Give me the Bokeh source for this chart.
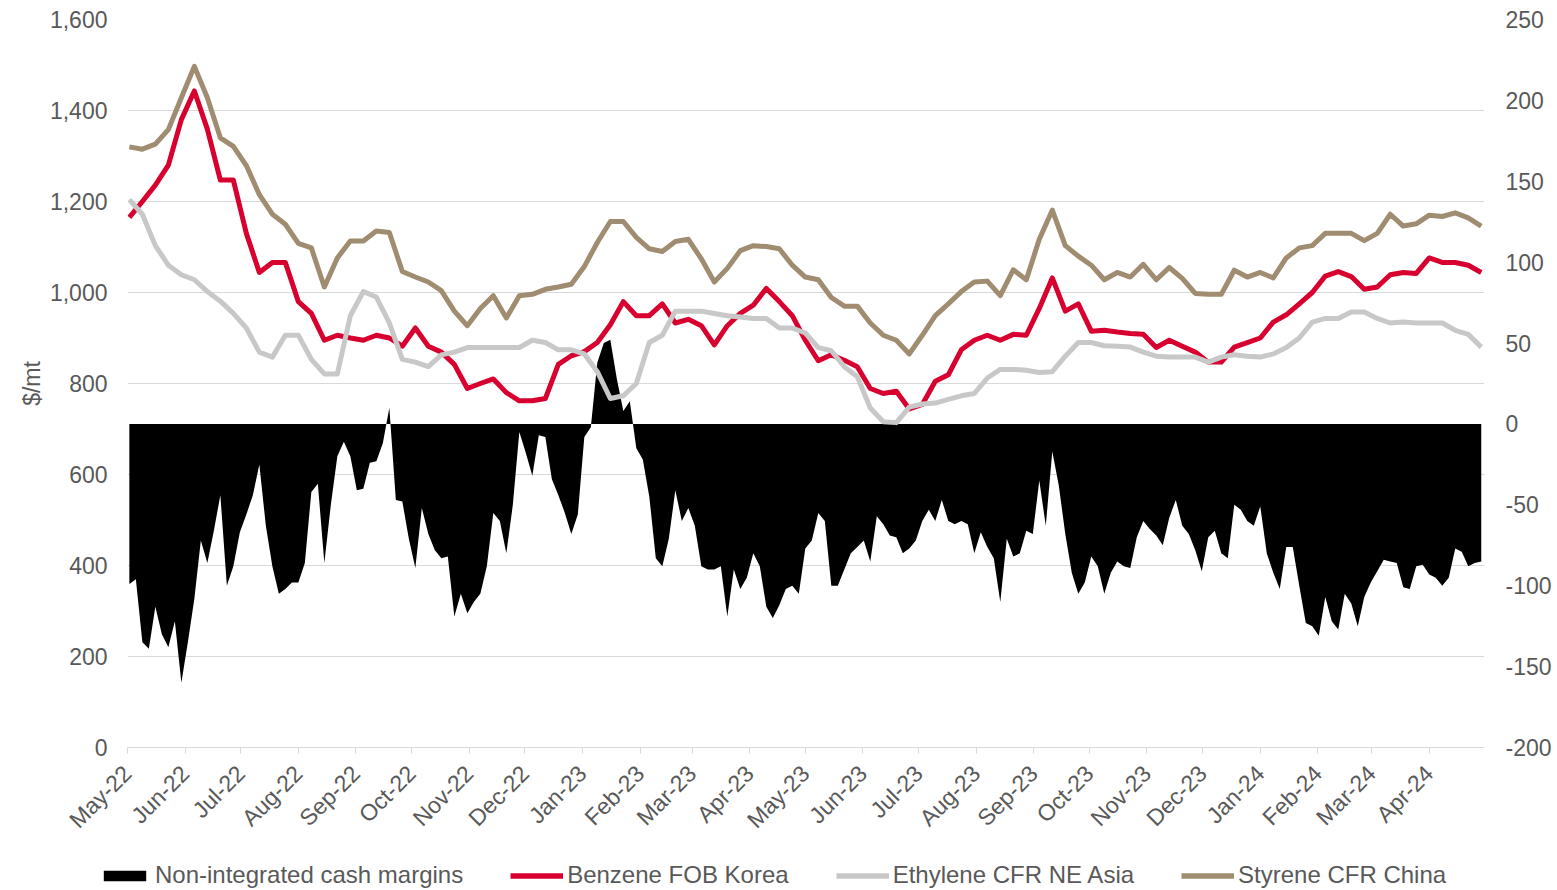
import pandas as pd
from math import pi
from bokeh.plotting import figure
from bokeh.layouts import column
from bokeh.models import (Range1d, LinearAxis, FixedTicker, NumeralTickFormatter,
                          DatetimeTickFormatter, MonthsTicker, Legend, LegendItem,
                          ColumnDataSource)
from bokeh.embed import file_html
from bokeh.resources import INLINE

# ---------------- data ----------------
week_start = "2022-05-02"      # weekly price assessments
margin_start = "2022-05-02"    # margins, twice a week

styrene = [1320, 1315, 1326, 1358, 1428, 1497, 1428, 1340, 1321, 1279,
           1215, 1172, 1150, 1108, 1098, 1012, 1076, 1113, 1113, 1135,
           1132, 1046, 1034, 1023, 1004, 959, 927, 965, 993, 944,
           993, 996, 1007, 1012, 1018, 1057, 1110, 1156, 1156, 1121,
           1096, 1090, 1112, 1117, 1074, 1023, 1053, 1092, 1103, 1101,
           1096, 1060, 1034, 1028, 989, 970, 970, 933, 906, 895,
           865, 906, 949, 975, 1002, 1023, 1025, 993, 1050, 1028,
           1117, 1181, 1103, 1080, 1060, 1028, 1044, 1034, 1062, 1028,
           1055, 1031, 998, 996, 996, 1049, 1034, 1044, 1032, 1076,
           1098, 1103, 1130, 1130, 1130, 1114, 1130, 1172, 1146, 1151,
           1170, 1167, 1175, 1164, 1146]

benzene = [1165, 1200, 1236, 1280, 1380, 1443, 1359, 1247, 1247, 1130,
           1044, 1066, 1066, 980, 954, 895, 906, 900, 895, 906,
           900, 882, 922, 882, 869, 842, 789, 800, 810, 780,
           762, 762, 767, 842, 861, 870, 890, 929, 980, 949,
           949, 975, 933, 941, 927, 885, 927, 954, 972, 1009,
           980, 949, 895, 850, 863, 851, 837, 789, 778, 783,
           744, 754, 805, 819, 874, 895, 906, 895, 908, 906,
           965, 1032, 959, 975, 915, 917, 913, 910, 908, 879,
           895, 882, 869, 847, 847, 880, 890, 900, 935, 951,
           975, 1000, 1036, 1046, 1035, 1007, 1012, 1039, 1044, 1042,
           1076, 1066, 1066, 1060, 1044]

ethylene = [1204, 1172, 1103, 1060, 1039, 1028, 1002, 981, 954, 922,
            869, 858, 906, 906, 853, 821, 821, 949, 1002, 990,
            933, 853, 847, 837, 863, 869, 879, 879, 879, 879,
            879, 895, 890, 874, 874, 865, 826, 767, 773, 800,
            890, 906, 959, 959, 959, 954, 949, 946, 943, 943,
            922, 922, 911, 879, 872, 837, 815, 746, 716, 714,
            748, 755, 757, 765, 773, 778, 812, 831, 831, 829,
            824, 826, 860, 890, 890, 883, 882, 880, 869, 860,
            858, 858, 858, 847, 858, 863, 860, 858, 865, 879,
            900, 935, 943, 943, 957, 957, 943, 933, 935, 933,
            933, 933, 917, 908, 880]

margins = [-99, -96, -135, -139, -113, -130, -138, -122, -160, -135,
           -108, -72, -86, -66, -44, -100, -88, -67, -56, -44,
           -25, -63, -88, -105, -102, -98, -98, -86, -42, -37,
           -86, -50, -20, -11, -20, -41, -40, -24, -23, -12,
           10, -47, -48, -71, -89, -52, -68, -78, -83, -82,
           -119, -105, -117, -110, -105, -88, -55, -60, -80, -50,
           -5, -18, -32, -7, -8, -34, -44, -55, -68, -56,
           -8, -2, 38, 50, 52, 28, 8, 14, -15, -22,
           -45, -83, -88, -71, -41, -60, -52, -63, -88, -90,
           -90, -88, -119, -90, -102, -95, -80, -88, -113, -120,
           -112, -102, -100, -105, -77, -72, -55, -60, -100, -100,
           -90, -80, -76, -72, -85, -57, -62, -69, -70, -80,
           -77, -72, -60, -53, -60, -47, -60, -62, -60, -62,
           -80, -67, -76, -83, -110, -71, -82, -80, -66, -68,
           -35, -63, -17, -38, -68, -92, -105, -98, -82, -88,
           -105, -92, -85, -88, -89, -70, -60, -65, -69, -75,
           -58, -47, -63, -68, -78, -91, -70, -66, -80, -83,
           -50, -53, -60, -63, -51, -80, -92, -102, -76, -76,
           -100, -123, -125, -131, -107, -122, -127, -105, -111, -125,
           -107, -98, -91, -84, -85, -86, -101, -102, -88, -87,
           -93, -95, -100, -95, -77, -79, -88, -86, -85]

series_labels = ["Non-integrated cash margins", "Benzene FOB Korea",
                 "Ethylene CFR NE Asia", "Styrene CFR China"]
left_ticks = [0, 200, 400, 600, 800, 1000, 1200, 1400, 1600]
right_ticks = [-200, -150, -100, -50, 0, 50, 100, 150, 200, 250]

# ---------------- styles ----------------
TXT = "#595959"
GRID = "#D9D9D9"
FONT = "Liberation Sans"
C_MARGIN = "#000000"
C_BENZ = "#D7002E"
C_ETH = "#C8C8C8"
C_STY = "#A08C70"
LW = 5

week_dates = pd.date_range(week_start, periods=len(styrene), freq="7D")
margin_dates = pd.date_range(margin_start, periods=len(margins), freq="84h")

src_w = ColumnDataSource(dict(x=week_dates, sty=styrene, ben=benzene, eth=ethylene))
src_m = ColumnDataSource(dict(x=margin_dates, m=margins, z=[0] * len(margins)))

W = 1556
H1 = 845          # chart figure
H2 = 44           # legend strip below it

p = figure(width=W, height=H1, x_axis_type="datetime",
           output_backend="svg", toolbar_location=None,
           x_range=Range1d(pd.Timestamp("2022-05-01").to_pydatetime(),
                           pd.Timestamp("2024-04-30 18:00").to_pydatetime()),
           y_range=Range1d(0, 1600),
           min_border_left=127, min_border_right=W - 1484,
           min_border_top=19, min_border_bottom=H1 - 747)
p.frame_align = False
p.extra_y_ranges = {"margin": Range1d(-200, 250)}
p.outline_line_color = None
p.background_fill_color = "white"
p.border_fill_color = "white"

# grid
p.xgrid.grid_line_color = None
p.ygrid.grid_line_color = GRID
p.ygrid.grid_line_width = 1

# left axis
p.yaxis.ticker = FixedTicker(ticks=left_ticks)
p.yaxis.formatter = NumeralTickFormatter(format="0,0")
p.yaxis.axis_line_color = None
p.yaxis.major_tick_line_color = None
p.yaxis.minor_tick_line_color = None
p.yaxis.major_tick_out = 0
p.yaxis.major_tick_in = 0
p.yaxis.major_label_standoff = 20
p.yaxis.major_label_text_font = FONT
p.yaxis.major_label_text_font_size = "23px"
p.yaxis.major_label_text_color = TXT
p.yaxis.axis_label = "$/mt"
p.yaxis.axis_label_text_font = FONT
p.yaxis.axis_label_text_font_size = "23px"
p.yaxis.axis_label_text_font_style = "normal"
p.yaxis.axis_label_text_color = TXT
p.yaxis.axis_label_standoff = 2

# right axis
ra = LinearAxis(y_range_name="margin", ticker=FixedTicker(ticks=right_ticks),
                formatter=NumeralTickFormatter(format="0"))
ra.axis_line_color = None
ra.major_tick_line_color = None
ra.minor_tick_line_color = None
ra.major_tick_out = 0
ra.major_tick_in = 0
ra.major_label_standoff = 21
ra.major_label_text_font = FONT
ra.major_label_text_font_size = "23px"
ra.major_label_text_color = TXT
p.add_layout(ra, "right")

# x axis
p.xaxis.ticker = MonthsTicker(months=list(range(12)))
p.xaxis.formatter = DatetimeTickFormatter(months="%b-%y", days="%b-%y",
                                          years="%b-%y")
p.xaxis.axis_line_color = GRID
p.xaxis.axis_line_width = 1
p.xaxis.major_tick_line_color = GRID
p.xaxis.major_tick_out = 6
p.xaxis.major_tick_in = 0
p.xaxis.minor_tick_line_color = None
p.xaxis.major_label_orientation = pi / 4
p.xaxis.major_label_standoff = 16
p.xaxis.major_label_text_font = FONT
p.xaxis.major_label_text_font_size = "23px"
p.xaxis.major_label_text_color = TXT

# glyphs
p.varea(x="x", y1="z", y2="m", source=src_m, y_range_name="margin",
        fill_color=C_MARGIN)
p.line("x", "ben", source=src_w, line_color=C_BENZ, line_width=LW, line_join="round")
p.line("x", "eth", source=src_w, line_color=C_ETH, line_width=LW, line_join="round")
p.line("x", "sty", source=src_w, line_color=C_STY, line_width=LW, line_join="round")

# ---------------- legend strip ----------------
lg = figure(width=W, height=H2, output_backend="svg", toolbar_location=None,
            x_range=Range1d(0, 1), y_range=Range1d(0, 1),
            x_axis_location=None, y_axis_location=None,
            min_border=0, min_border_left=0, min_border_right=0,
            min_border_top=0, min_border_bottom=0)
lg.frame_align = False
lg.outline_line_color = None
lg.xgrid.grid_line_color = None
lg.ygrid.grid_line_color = None
# placeholder sources lying outside the strip's ranges: only the legend swatches show
hidden = ColumnDataSource(dict(x=[2, 3], y=[2, 2], z=[3, 3]))
g_m = lg.varea(x="x", y1="z", y2="y", source=hidden, fill_color=C_MARGIN)
g_b = lg.line("x", "y", source=hidden, line_color=C_BENZ, line_width=LW + 0.5)
g_e = lg.line("x", "y", source=hidden, line_color=C_ETH, line_width=LW + 0.5)
g_s = lg.line("x", "y", source=hidden, line_color=C_STY, line_width=LW + 0.5)

legend = Legend(items=[LegendItem(label=series_labels[0], renderers=[g_m]),
                       LegendItem(label=series_labels[1], renderers=[g_b]),
                       LegendItem(label=series_labels[2], renderers=[g_e]),
                       LegendItem(label=series_labels[3], renderers=[g_s])],
                orientation="horizontal", location=(98, 0),
                glyph_width=53, glyph_height=13, label_standoff=4,
                spacing=47, padding=0, margin=0,
                border_line_color=None, background_fill_alpha=0,
                label_text_font=FONT, label_text_font_size="24px",
                label_text_color=TXT)
lg.add_layout(legend, "center")

layout = column(p, lg, spacing=0)
open("out.html", "w").write(file_html(layout, INLINE))
